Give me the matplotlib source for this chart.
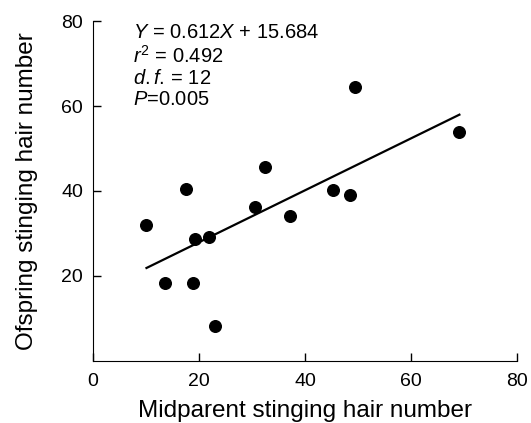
import matplotlib.pyplot as plt
import numpy as np

plt.rcParams["font.family"] = ["Liberation Sans", "DejaVu Sans"]
plt.rcParams["mathtext.fontset"] = "custom"
plt.rcParams["mathtext.rm"] = "Liberation Sans"
plt.rcParams["mathtext.it"] = "Liberation Sans:italic"

# midparent vs offspring stinging hair number
midparent = [10.1, 13.5, 17.6, 18.9, 19.3, 21.8, 23.0, 30.5, 32.5, 37.2, 45.3, 48.4, 49.4, 69.1]
offspring = [32.0, 18.4, 40.5, 18.4, 28.8, 29.1, 8.1, 36.2, 45.6, 34.1, 40.2, 39.1, 64.5, 53.8]
slope, intercept = 0.612, 15.684
stats_lines = [r"$Y$ = 0.612$X$ + 15.684", r"$r^2$ = 0.492", r"$d.f.\!$ = 12", r"$P$=0.005"]

fig = plt.figure(figsize=(5.31, 4.23), dpi=100)
ax = fig.add_axes([0.175, 0.147, 0.799, 0.803])

ax.scatter(midparent, offspring, s=70, color="black", zorder=3)
xl = np.array([min(midparent), max(midparent)])
ax.plot(xl, slope * xl + intercept, color="black", lw=1.6)

ax.set_xlim(0, 80)
ax.set_ylim(0, 80)
ax.set_xticks([0, 20, 40, 60, 80])
ax.set_yticks([20, 40, 60, 80])
ax.tick_params(direction="in", length=6, labelsize=14, width=1)
ax.tick_params(axis="x", pad=9)
ax.tick_params(axis="y", pad=7)
ax.spines["top"].set_visible(False)
ax.spines["right"].set_visible(False)

ax.set_xlabel("Midparent stinging hair number", fontsize=17.5, labelpad=7)
ax.set_ylabel("Ofspring stinging hair number", fontsize=17.5, labelpad=17)

ax.text(7.5, 79.5, "\n".join(stats_lines), fontsize=14.5, va="top", linespacing=1.15)

fig.savefig("out.png", dpi=100)
